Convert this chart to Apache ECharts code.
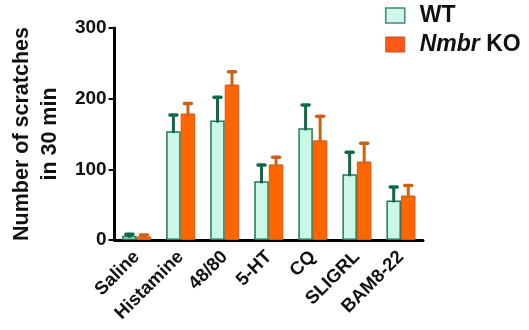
<!DOCTYPE html>
<html>
<head>
<meta charset="utf-8">
<script src="https://cdn.jsdelivr.net/npm/echarts@6/dist/echarts.min.js"></script>
<style>html,body{margin:0;padding:0;background:#fff;}#c{width:529px;height:330px;}</style>
</head>
<body>
<div id="c"></div>
<script>
var categories = ['Saline', 'Histamine', '48/80', '5-HT', 'CQ', 'SLIGRL', 'BAM8-22'];
var wtMean = [6, 154, 169, 83, 158, 93, 56];
var wtErr = [2, 23, 33, 23, 33, 31, 19];
var koMean = [5, 179, 220, 107, 141, 111, 63];
var koErr = [2, 14, 18, 10, 34, 26, 14];
var yTicks = [0, 100, 200, 300];

var FONT = 'Liberation Sans, Arial, sans-serif';
var CAT_GAP = 0.34;

function errSeries(name, means, errs, side, color) {
  var data = means.map(function (m, i) { return [i, m, errs[i]]; });
  return {
    type: 'custom',
    name: name + '_err',
    data: data,
    z: 5,
    encode: { x: 0, y: 1 },
    renderItem: function (params, api) {
      var i = api.value(0), v = api.value(1), e = api.value(2);
      var band = api.size([1, 0])[0];
      var off = side * band * (1 - CAT_GAP) / 4;
      var base = api.coord([i, v]);
      var top = api.coord([i, v + e]);
      var cx = base[0] + off;
      return {
        type: 'group',
        children: [
          { type: 'line', shape: { x1: cx, y1: base[1] + 2, x2: cx, y2: top[1] },
            style: { stroke: color, lineWidth: 3 } },
          { type: 'line', shape: { x1: cx - 3.5, y1: top[1], x2: cx + 3.5, y2: top[1] },
            style: { stroke: color, lineWidth: 3.5, lineCap: 'round' } }
        ]
      };
    }
  };
}

var chart = echarts.init(document.getElementById('c'));
chart.setOption({
  animation: false,
  backgroundColor: '#fff',
  grid: { left: 104, right: 106, top: 28, bottom: 90, containLabel: false },
  legend: {
    data: [
      { name: 'WT', itemStyle: { color: '#d2f7ea', borderColor: '#3d8a7a', borderWidth: 1.5 } },
      { name: 'KO', itemStyle: { color: '#ff5a1a', borderColor: '#c8541e', borderWidth: 1 } }
    ],
    orient: 'vertical',
    left: 385, top: 4, padding: 0,
    itemWidth: 19, itemHeight: 15, itemGap: 6, icon: 'rect',
    formatter: function (n) { return n === 'KO' ? '{i|Nmbr} KO' : 'WT'; },
    textStyle: {
      fontFamily: FONT, fontWeight: 'bold', fontSize: 23, color: '#111', padding: [0, 0, 0, 10],
      rich: { i: { fontStyle: 'italic', fontWeight: 'bold', fontSize: 23, fontFamily: FONT, color: '#111' } }
    },
    selectedMode: false
  },
  xAxis: {
    type: 'category',
    data: categories,
    axisLine: { lineStyle: { color: '#000', width: 3 } },
    axisTick: { show: false },
    axisLabel: { rotate: 45, margin: 14, fontFamily: FONT, fontWeight: 'bold', fontSize: 18.5, color: '#111', interval: 0 }
  },
  yAxis: {
    type: 'value',
    min: 0, max: 300, interval: 100,
    name: 'Number of scratches\nin 30 min',
    nameLocation: 'middle', nameRotate: 90, nameGap: 50,
    nameTextStyle: { fontFamily: FONT, fontWeight: 'bold', fontSize: 21.5, color: '#111', lineHeight: 28 },
    axisLine: { show: true, lineStyle: { color: '#000', width: 3 } },
    axisTick: { show: true, length: 6, lineStyle: { color: '#000', width: 2 } },
    axisLabel: { margin: 8, fontFamily: FONT, fontWeight: 'bold', fontSize: 19, color: '#111',
      formatter: function (v) { return yTicks.indexOf(v) >= 0 ? String(v) : ''; } },
    splitLine: { show: false }
  },
  series: [
    { type: 'bar', name: 'WT', data: wtMean, barGap: '0%', barCategoryGap: (CAT_GAP * 100) + '%',
      itemStyle: { color: '#ccf7e6', borderColor: '#1f7a55', borderWidth: 1.5 } },
    { type: 'bar', name: 'KO', data: koMean,
      itemStyle: { color: '#ff6600', borderColor: '#d05a10', borderWidth: 1 } },
    errSeries('WT', wtMean, wtErr, -1, '#0b6b45'),
    errSeries('KO', koMean, koErr, 1, '#cc6212')
  ]
});
</script>
</body>
</html>
